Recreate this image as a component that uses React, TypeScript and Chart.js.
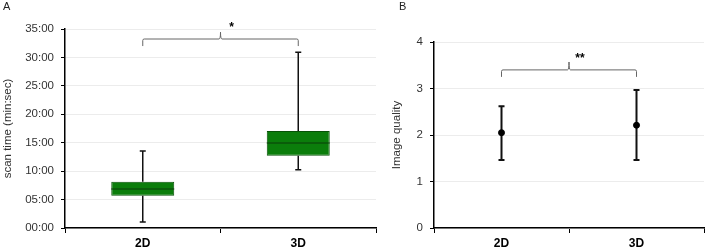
import { useEffect, useRef } from "react";
import { Chart, registerables } from "chart.js";

Chart.register(...registerables);

// ---------- data ----------
const categories = ["2D", "3D"];

// Panel A: scan time, minutes
const scanMin = [1.06, 10.25];
const scanQ1 = [5.68, 12.72];
const scanMedian = [6.86, 14.95];
const scanQ3 = [8.14, 17.06];
const scanMax = [13.54, 30.9];
const scanTickLabels = ["00:00", "05:00", "10:00", "15:00", "20:00", "25:00", "30:00", "35:00"];

// Panel B: image quality
const qualityMean = [2.05, 2.21];
const qualityLow = [1.46, 1.46];
const qualityHigh = [2.62, 2.97];
const qualityTickLabels = ["0", "1", "2", "3", "4"];

// significance brackets [A, B]
const bracketLevel = [33.24, 3.4];
const bracketEnd = [32.0, 3.25];
const bracketPeak = [34.45, 3.57];
const sigY = [35.55, 3.69];
const sigLabels = ["*", "**"];
const panelLetters = ["A", "B"];

const FONT = "'Liberation Sans', Arial, sans-serif";

function bracketPlugin(idx: number) {
  return {
    id: "bracket" + idx,
    afterDraw(chart: any) {
      const { ctx } = chart;
      const xs = chart.scales.x;
      const ys = chart.scales.y;
      const x1 = xs.getPixelForValue(0);
      const x2 = xs.getPixelForValue(1);
      const xm = (x1 + x2) / 2;
      const yb = ys.getPixelForValue(bracketLevel[idx]);
      const ye = ys.getPixelForValue(bracketEnd[idx]);
      const yp = ys.getPixelForValue(bracketPeak[idx]);
      ctx.save();
      ctx.strokeStyle = "#666";
      ctx.lineWidth = 1;
      ctx.beginPath();
      ctx.moveTo(x1, ye);
      ctx.lineTo(x1, yb + 1.5);
      ctx.quadraticCurveTo(x1, yb, x1 + 1.5, yb);
      ctx.lineTo(xm - 1.5, yb);
      ctx.quadraticCurveTo(xm, yb, xm, yp);
      ctx.quadraticCurveTo(xm, yb, xm + 1.5, yb);
      ctx.lineTo(x2 - 1.5, yb);
      ctx.quadraticCurveTo(x2, yb, x2, yb + 1.5);
      ctx.lineTo(x2, ye);
      ctx.stroke();
      ctx.fillStyle = "#000";
      ctx.font = "bold 12px " + FONT;
      ctx.textAlign = "center";
      ctx.textBaseline = "middle";
      ctx.fillText(sigLabels[idx], xm + 11, ys.getPixelForValue(sigY[idx]) + 2);
      // panel letter
      ctx.font = "11px " + FONT;
      ctx.fillStyle = "#222";
      ctx.textAlign = "left";
      ctx.fillText(panelLetters[idx], idx === 0 ? 3 : 19, 7);
      ctx.restore();
    },
  };
}

const boxPlugin = {
  id: "boxWhiskers",
  afterDatasetsDraw(chart: any) {
    const { ctx } = chart;
    const ys = chart.scales.y;
    const meta = chart.getDatasetMeta(0);
    ctx.save();
    meta.data.forEach((bar: any, i: number) => {
      const x = bar.x;
      const half = bar.width / 2;
      const yq1 = ys.getPixelForValue(scanQ1[i]);
      const yq3 = ys.getPixelForValue(scanQ3[i]);
      const ymin = ys.getPixelForValue(scanMin[i]);
      const ymax = ys.getPixelForValue(scanMax[i]);
      const ymed = ys.getPixelForValue(scanMedian[i]);
      ctx.strokeStyle = "#111";
      ctx.lineWidth = 1.5;
      ctx.beginPath();
      ctx.moveTo(x, yq3);
      ctx.lineTo(x, ymax);
      ctx.moveTo(x - 3, ymax);
      ctx.lineTo(x + 3, ymax);
      ctx.moveTo(x, yq1);
      ctx.lineTo(x, ymin);
      ctx.moveTo(x - 3, ymin);
      ctx.lineTo(x + 3, ymin);
      ctx.stroke();
      ctx.strokeStyle = "#0b3d0b";
      ctx.lineWidth = 1.2;
      ctx.beginPath();
      ctx.moveTo(x - half, ymed);
      ctx.lineTo(x + half, ymed);
      ctx.stroke();
    });
    ctx.restore();
  },
};

const errPlugin = {
  id: "errBars",
  beforeDatasetsDraw(chart: any) {
    const { ctx } = chart;
    const xs = chart.scales.x;
    const ys = chart.scales.y;
    ctx.save();
    ctx.strokeStyle = "#111";
    ctx.lineWidth = 2;
    categories.forEach((_, i) => {
      const x = xs.getPixelForValue(i);
      const yl = ys.getPixelForValue(qualityLow[i]);
      const yh = ys.getPixelForValue(qualityHigh[i]);
      ctx.beginPath();
      ctx.moveTo(x, yl);
      ctx.lineTo(x, yh);
      ctx.moveTo(x - 3, yh);
      ctx.lineTo(x + 3, yh);
      ctx.moveTo(x - 3, yl);
      ctx.lineTo(x + 3, yl);
      ctx.stroke();
    });
    ctx.restore();
  },
};

function axisCommon() {
  return {
    tickFont: { family: FONT, size: 11.5 },
  };
}

export default function App() {
  const refA = useRef<HTMLCanvasElement>(null);
  const refB = useRef<HTMLCanvasElement>(null);

  useEffect(() => {
    const c = axisCommon();
    const chartA = new Chart(refA.current!, {
      type: "bar",
      data: {
        labels: categories,
        datasets: [
          {
            data: categories.map((_, i) => [scanQ1[i], scanQ3[i]]) as any,
            backgroundColor: "#0b7d0b",
            borderColor: "#075207",
            borderWidth: 1,
            borderSkipped: false,
            categoryPercentage: 1,
            barPercentage: 0.405,
          },
        ],
      },
      options: {
        animation: false,
        responsive: false,
        devicePixelRatio: 1,
        layout: { padding: { left: 0, right: 4, top: 29, bottom: 0 } },
        plugins: { legend: { display: false }, tooltip: { enabled: false } },
        scales: {
          x: {
            afterFit: (s: any) => {
              s.height = 21;
            },
            grid: { drawOnChartArea: false, drawTicks: true, tickLength: 5, tickColor: "#000", offset: true },
            border: { color: "#000", width: 1.5 },
            ticks: { color: "#000", font: { family: FONT, size: 12, weight: "bold" }, padding: 3 },
          },
          y: {
            min: 0,
            max: 35,
            afterFit: (s: any) => {
              s.width = 65;
            },
            grid: { color: "#ececec", tickColor: "#000", tickLength: 4, lineWidth: 1 },
            border: { color: "#000", width: 1.5 },
            ticks: {
              stepSize: 5,
              color: "#333",
              font: c.tickFont,
              padding: 7,
              callback: (_v: any, i: number) => scanTickLabels[i],
            },
            title: {
              display: true,
              text: "scan time (min:sec)",
              color: "#333",
              font: { family: FONT, size: 11.5 },
              padding: { top: 1, bottom: 0 },
            },
          },
        },
      },
      plugins: [boxPlugin, bracketPlugin(0)],
    } as any);

    const chartB = new Chart(refB.current!, {
      type: "line",
      data: {
        labels: categories,
        datasets: [
          {
            data: qualityMean,
            showLine: false,
            pointStyle: "circle",
            pointRadius: 3,
            pointBackgroundColor: "#000",
            pointBorderColor: "#000",
            borderColor: "#000",
          },
        ],
      },
      options: {
        animation: false,
        responsive: false,
        devicePixelRatio: 1,
        layout: { padding: { left: 0, right: 1, top: 42, bottom: 0 } },
        plugins: { legend: { display: false }, tooltip: { enabled: false } },
        scales: {
          x: {
            offset: true,
            afterFit: (s: any) => {
              s.height = 21;
            },
            grid: { drawOnChartArea: false, drawTicks: true, tickLength: 5, tickColor: "#000", offset: true },
            border: { color: "#000", width: 1.5 },
            ticks: { color: "#000", font: { family: FONT, size: 12, weight: "bold" }, padding: 3 },
          },
          y: {
            min: 0,
            max: 4,
            afterFit: (s: any) => {
              s.width = 54;
            },
            grid: { color: "#ececec", tickColor: "#000", tickLength: 4, lineWidth: 1 },
            border: { color: "#000", width: 1.5 },
            ticks: {
              stepSize: 1,
              color: "#333",
              font: c.tickFont,
              padding: 7,
              callback: (_v: any, i: number) => qualityTickLabels[i],
            },
            title: {
              display: true,
              text: "Image quality",
              color: "#333",
              font: { family: FONT, size: 11.5 },
              padding: { top: 10, bottom: 0 },
            },
          },
        },
      },
      plugins: [errPlugin, bracketPlugin(1)],
    } as any);

    return () => {
      chartA.destroy();
      chartB.destroy();
    };
  }, []);

  return (
    <div style={{ position: "absolute", left: 0, top: 0, width: 709, height: 249, background: "#fff" }}>
      <canvas ref={refA} width={380} height={249} style={{ position: "absolute", left: 0, top: 0, width: 380, height: 249 }} />
      <canvas ref={refB} width={329} height={249} style={{ position: "absolute", left: 380, top: 0, width: 329, height: 249 }} />
    </div>
  );
}
